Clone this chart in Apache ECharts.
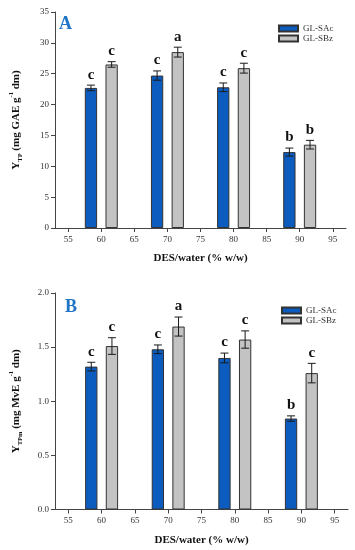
<!DOCTYPE html>
<html><head><meta charset="utf-8">
<script src="https://cdn.jsdelivr.net/npm/echarts@6/dist/echarts.min.js"></script>
<style>html,body{margin:0;padding:0;background:#fff}#c{width:355px;height:550px}</style>
</head><body><div id="c"></div>
<script>
const xCategories = [60, 70, 80, 90];
const xTicks = [55, 60, 65, 70, 75, 80, 85, 90, 95];
const seriesNames = ['GL-SAc', 'GL-SBz'];
const panelLabels = ['A', 'B'];
const xTitle = 'DES/water (% w/w)';

const aSAc = [22.7, 24.7, 22.8, 12.3];
const aSAcErr = [0.45, 0.75, 0.7, 0.65];
const aSAcLetters = ['c', 'c', 'c', 'b'];
const aSBz = [26.5, 28.5, 25.9, 13.5];
const aSBzErr = [0.45, 0.8, 0.8, 0.7];
const aSBzLetters = ['c', 'a', 'c', 'b'];

const bSAc = [1.32, 1.48, 1.40, 0.84];
const bSAcErr = [0.04, 0.04, 0.045, 0.025];
const bSAcLetters = ['c', 'c', 'c', 'b'];
const bSBz = [1.51, 1.69, 1.57, 1.26];
const bSBzErr = [0.077, 0.088, 0.08, 0.09];
const bSBzLetters = ['c', 'a', 'c', 'c'];

const FONT = '"Liberation Serif", "DejaVu Serif", serif';
const BLUE = '#0b5cbe';
const GRAY = '#c3c3c3';
const BAR_W = 12.3;
const BAR_GAP = 0.68;
const CAP = 8;
const OFFSET = (BAR_W * (1 + BAR_GAP)) / 2;

const chart = echarts.init(document.getElementById('c'), null, {renderer: 'canvas'});

function xAxisFor(gridIndex) {
  return {
    type: 'value', gridIndex, min: 53, max: 97,
    splitLine: {show: false},
    axisLine: {lineStyle: {color: '#444', width: 1}},
    axisTick: {show: true, length: 4, customValues: xTicks, lineStyle: {color: '#444'}},
    axisLabel: {customValues: xTicks, color: '#333', fontFamily: FONT, fontSize: 9, margin: 7},
    name: xTitle, nameLocation: 'middle', nameGap: 25,
    nameTextStyle: {fontFamily: FONT, fontWeight: 'bold', fontSize: 11, color: '#111'}
  };
}
function yAxisFor(gridIndex, max, interval, decimals, sub, unit) {
  return {
    type: 'value', gridIndex, min: 0, max, interval,
    splitLine: {show: false},
    axisLine: {show: true, lineStyle: {color: '#444', width: 1}},
    axisTick: {show: true, length: 4, lineStyle: {color: '#444'}},
    axisLabel: {color: '#333', fontFamily: FONT, fontSize: 9, margin: 6,
      formatter: v => v.toFixed(decimals)},
    name: '{m|Y}{s|' + sub + '}{m| (mg ' + unit + ' g}{p|-1}{m| dm)}',
    nameLocation: 'middle', nameGap: 31, nameRotate: 90,
    nameTextStyle: {
      rich: {
        m: {fontFamily: FONT, fontWeight: 'bold', fontSize: 11, color: '#111', lineHeight: 16, verticalAlign: 'middle'},
        s: {fontFamily: FONT, fontWeight: 'bold', fontSize: 6.5, color: '#111', lineHeight: 16, verticalAlign: 'bottom'},
        p: {fontFamily: FONT, fontWeight: 'bold', fontSize: 6.5, color: '#111', lineHeight: 16, verticalAlign: 'top'}
      }
    }
  };
}

function barSeries(name, idx, vals, color) {
  return {
    type: 'bar', name, xAxisIndex: idx, yAxisIndex: idx,
    barWidth: BAR_W, barGap: (BAR_GAP * 100) + '%',
    itemStyle: {color, borderColor: '#333', borderWidth: 1},
    data: xCategories.map((x, i) => [x, vals[i]]),
    z: 2
  };
}
function errSeries(idx, vals, errs, letters, sign) {
  return {
    type: 'custom', xAxisIndex: idx, yAxisIndex: idx, z: 5,
    dimensions: ['x', 'y', 'e'], encode: {x: 0, y: 1},
    data: xCategories.map((x, i) => [x, vals[i], errs[i]]),
    renderItem: function (params, api) {
      const x = api.value(0), y = api.value(1), e = api.value(2);
      const top = api.coord([x, y + e]);
      const bot = api.coord([x, y - e]);
      const cx = top[0] + sign * OFFSET;
      const st = {stroke: '#1a1a1a', lineWidth: 1};
      return {type: 'group', children: [
        {type: 'line', shape: {x1: cx, y1: top[1], x2: cx, y2: bot[1]}, style: st},
        {type: 'line', shape: {x1: cx - CAP / 2, y1: top[1], x2: cx + CAP / 2, y2: top[1]}, style: st},
        {type: 'line', shape: {x1: cx - CAP / 2, y1: bot[1], x2: cx + CAP / 2, y2: bot[1]}, style: st},
        {type: 'text', style: {text: letters[params.dataIndex], x: cx, y: top[1] - 3,
          textAlign: 'center', textVerticalAlign: 'bottom',
          font: 'bold 15px ' + FONT, fill: '#111'}}
      ]};
    }
  };
}
function legendFor(left, top) {
  return {
    data: seriesNames.map(n => ({name: n, icon: 'rect'})), orient: 'vertical', left, top,
    itemWidth: 19, itemHeight: 6, itemGap: 1,
    textStyle: {fontFamily: FONT, fontSize: 9, color: '#333'}
  };
}

chart.setOption({
  animation: false,
  grid: [
    {left: 47, width: 299, top: 12, height: 216},
    {left: 49, width: 299, top: 293, height: 216.5}
  ],
  xAxis: [xAxisFor(0), xAxisFor(1)],
  yAxis: [
    yAxisFor(0, 35, 5, 0, 'TP', 'GAE'),
    yAxisFor(1, 2, 0.5, 1, 'TPm', 'MvE')
  ],
  legend: [legendFor(273, 19), legendFor(276, 301)],
  title: [
    {text: panelLabels[0], left: 54, top: 10, textStyle: {fontFamily: FONT, fontWeight: 'bold', fontSize: 18, color: '#1f74c6'}},
    {text: panelLabels[1], left: 60, top: 293, textStyle: {fontFamily: FONT, fontWeight: 'bold', fontSize: 18, color: '#1f74c6'}}
  ],
  series: [
    barSeries(seriesNames[0], 0, aSAc, BLUE),
    barSeries(seriesNames[1], 0, aSBz, GRAY),
    barSeries(seriesNames[0], 1, bSAc, BLUE),
    barSeries(seriesNames[1], 1, bSBz, GRAY),
    errSeries(0, aSAc, aSAcErr, aSAcLetters, -1),
    errSeries(0, aSBz, aSBzErr, aSBzLetters, 1),
    errSeries(1, bSAc, bSAcErr, bSAcLetters, -1),
    errSeries(1, bSBz, bSBzErr, bSBzLetters, 1)
  ]
});
</script></body></html>
